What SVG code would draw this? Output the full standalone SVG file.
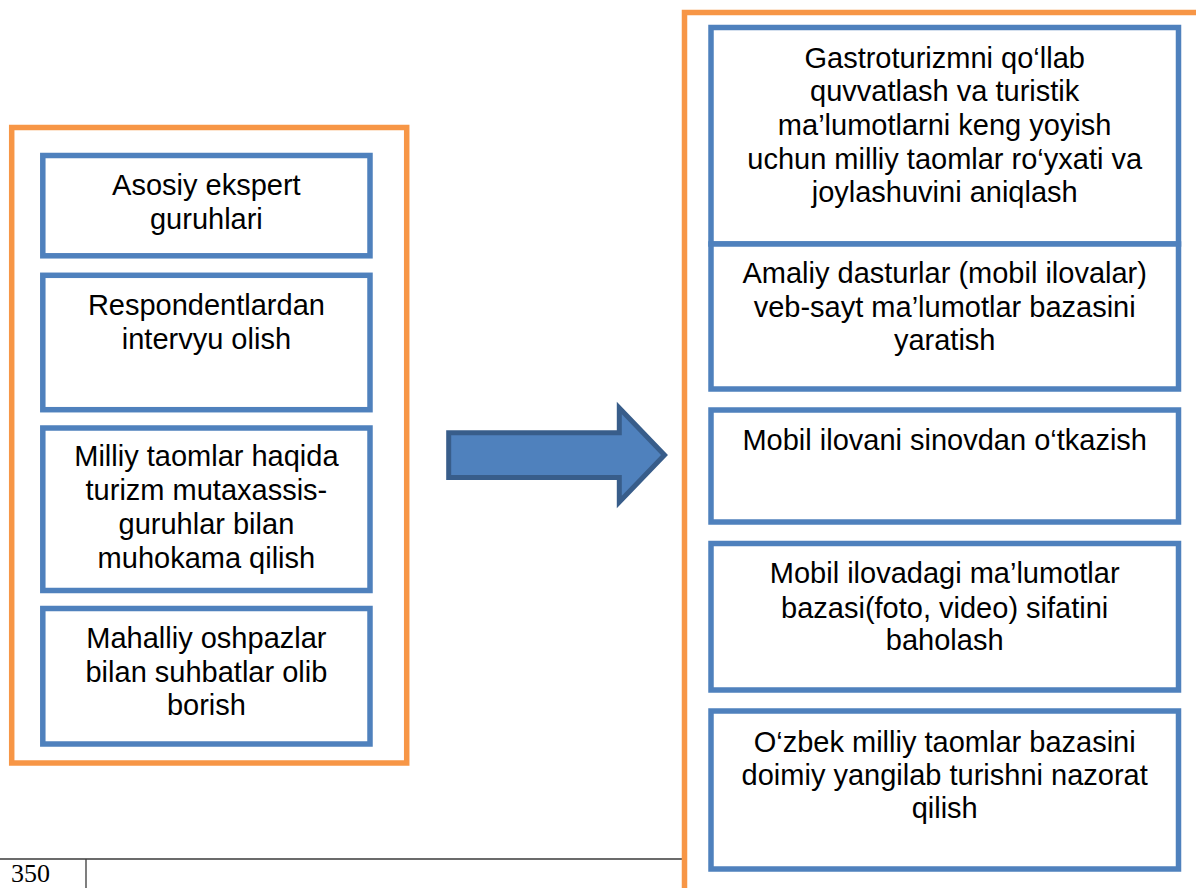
<svg xmlns="http://www.w3.org/2000/svg" width="1196" height="888" viewBox="0 0 1196 888">
<style>
.outer{fill:none;stroke:#F79646;stroke-width:5.5}
.box{fill:#FFFFFF;stroke:#4F81BD;stroke-width:5.5}
.t{font-family:"Liberation Sans",Arial,sans-serif;font-size:29px;fill:#000;text-anchor:middle}
.pg{font-family:"Liberation Serif","Times New Roman",serif;font-size:26px;fill:#000}
</style>
<rect width="1196" height="888" fill="#FFFFFF"/>
<g id="footer">
<line x1="0" y1="859" x2="683" y2="859" stroke="#3a3a3a" stroke-width="1.3"/>
<line x1="86" y1="859" x2="86" y2="888" stroke="#3a3a3a" stroke-width="1.3"/>
<text class="pg" x="11" y="881.5">350</text>
</g>
<g id="left-group">
<rect class="outer" x="11.7" y="127.5" width="395" height="635.5"/>
</g>
<g id="right-group">
<rect class="outer" x="684.5" y="12.5" width="530" height="900"/>
</g>
<g id="L1">
<rect class="box" x="42.8" y="155.5" width="327.2" height="100.3"/>
<text class="t" x="206.4" y="195">Asosiy ekspert</text>
<text class="t" x="206.4" y="228.5">guruhlari</text>
</g>
<g id="L2">
<rect class="box" x="42.8" y="275.3" width="327.2" height="134.4"/>
<text class="t" x="206.4" y="315">Respondentlardan</text>
<text class="t" x="206.4" y="349">intervyu olish</text>
</g>
<g id="L3">
<rect class="box" x="42.8" y="428" width="327.2" height="162.5"/>
<text class="t" x="206.4" y="465.7">Milliy taomlar haqida</text>
<text class="t" x="206.4" y="500">turizm mutaxassis-</text>
<text class="t" x="206.4" y="534.3">guruhlar bilan</text>
<text class="t" x="206.4" y="568.3">muhokama qilish</text>
</g>
<g id="L4">
<rect class="box" x="42.8" y="608.5" width="327.2" height="135.5"/>
<text class="t" x="206.4" y="647.7">Mahalliy oshpazlar</text>
<text class="t" x="206.4" y="681.7">bilan suhbatlar olib</text>
<text class="t" x="206.4" y="715">borish</text>
</g>
<g id="R1">
<rect class="box" x="711" y="27.5" width="467.5" height="216.5"/>
<text class="t" x="944.7" y="67.5">Gastroturizmni qo‘llab</text>
<text class="t" x="944.7" y="101">quvvatlash va turistik</text>
<text class="t" x="944.7" y="135">ma’lumotlarni keng yoyish</text>
<text class="t" x="944.7" y="168.5">uchun milliy taomlar ro‘yxati va</text>
<text class="t" x="944.7" y="202">joylashuvini aniqlash</text>
</g>
<g id="R2">
<rect class="box" x="711" y="244" width="467.5" height="145"/>
<text class="t" x="944.7" y="283.3">Amaliy dasturlar (mobil ilovalar)</text>
<text class="t" x="944.7" y="317.3">veb-sayt ma’lumotlar bazasini</text>
<text class="t" x="944.7" y="350">yaratish</text>
</g>
<g id="R3">
<rect class="box" x="711" y="410" width="467.5" height="112"/>
<text class="t" x="944.7" y="450">Mobil ilovani sinovdan o‘tkazish</text>
</g>
<g id="R4">
<rect class="box" x="711" y="543.5" width="467.5" height="146.5"/>
<text class="t" x="944.7" y="583.3">Mobil ilovadagi ma’lumotlar</text>
<text class="t" x="944.7" y="618.3">bazasi(foto, video) sifatini</text>
<text class="t" x="944.7" y="650">baholash</text>
</g>
<g id="R5">
<rect class="box" x="711" y="711" width="467.5" height="158"/>
<text class="t" x="944.7" y="751.7">O‘zbek milliy taomlar bazasini</text>
<text class="t" x="944.7" y="785">doimiy yangilab turishni nazorat</text>
<text class="t" x="944.7" y="818.3">qilish</text>
</g>
<g id="connectors">
<path d="M448.7,432.7 L619.3,432.7 L619.3,408 L664.5,455 L619.3,502 L619.3,477.5 L448.7,477.5 Z" fill="#4F81BD" stroke="#385D8A" stroke-width="5" stroke-linejoin="miter"/>
</g>
</svg>
